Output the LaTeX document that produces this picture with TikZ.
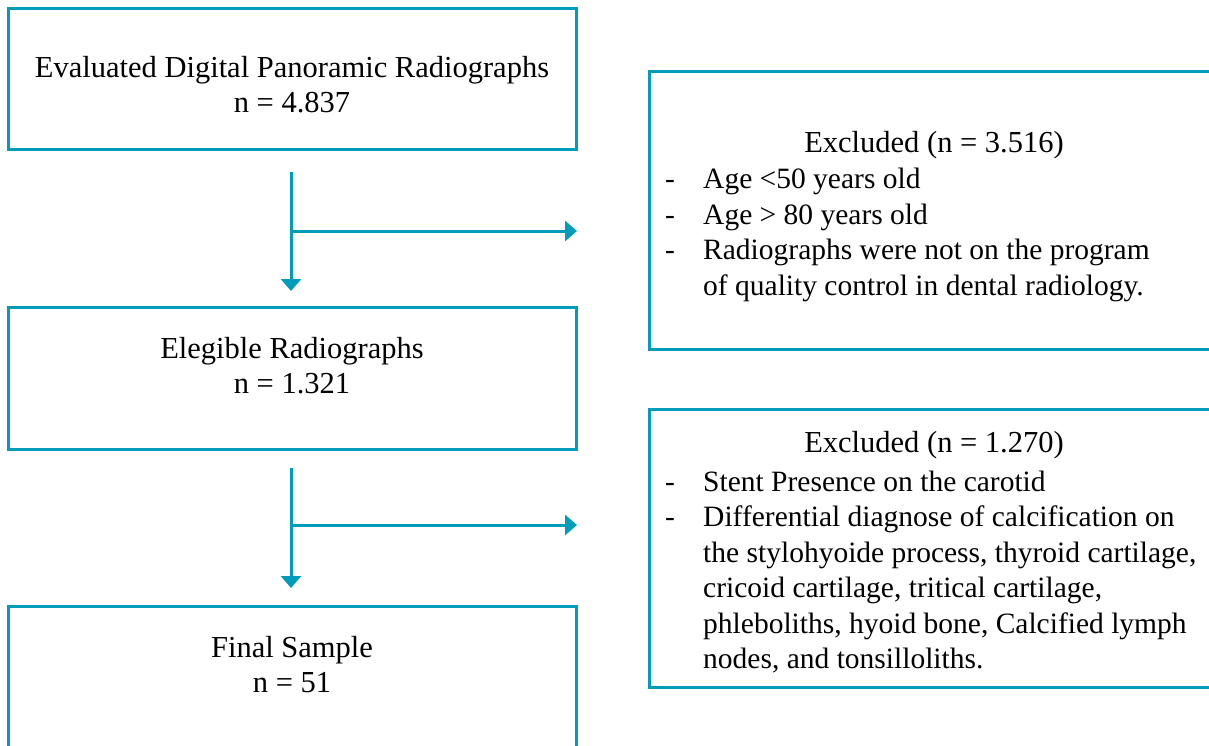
\documentclass[tikz,border=0pt]{standalone}
\usepackage{fontspec}
\setmainfont{Liberation Serif}
\usetikzlibrary{arrows.meta}
\definecolor{teal1}{RGB}{0,156,185}
\begin{document}
\begin{tikzpicture}[x=1pt,y=-1pt,
  box/.style={draw=teal1, line width=3pt, inner sep=0pt},
  txt/.style={font=\fontsize{30.5}{35}\selectfont, align=center, inner sep=0pt},
  listtxt/.style={font=\fontsize{29.5}{35.5}\selectfont, align=left, inner sep=0pt, anchor=west},
  conn/.style={draw=teal1, line width=3pt, -{Triangle[width=20pt,length=12pt]}}]
\useasboundingbox (0,0) rectangle (1209,746);
% left column boxes
\node[box, minimum width=568pt, minimum height=141pt] (b1) at (292,79.5) {};
\node[box, minimum width=568pt, minimum height=142pt] (b2) at (292,378) {};
\node[box, minimum width=568pt, minimum height=142pt] (b3) at (292,677) {};
\node[txt] (t1) at (292,85) {Evaluated Digital Panoramic Radiographs\\ n = 4.837};
\node[txt] (t2) at (292,366) {Elegible Radiographs\\ n = 1.321};
\node[txt] (t3) at (292,665) {Final Sample\\ n = 51};
% right boxes
\node[box, minimum width=566pt, minimum height=277pt] (e1) at (932,210.5) {};
\node[box, minimum width=566pt, minimum height=278pt] (e2) at (932,548) {};
\node[txt] (e1h) at (934,145) {Excluded (n = 3.516)};
\node[listtxt] (e1l) at (665,235) {\begin{tabular}{@{}p{38pt}@{}l@{}}
- & Age <50 years old\\
- & Age > 80 years old\\
- & Radiographs were not on the program\\
  & of quality control in dental radiology.
\end{tabular}};
\node[txt] (e2h) at (934,445) {Excluded (n = 1.270)};
\node[listtxt] (e2l) at (665,573) {\begin{tabular}{@{}p{38pt}@{}l@{}}
- & Stent Presence on the carotid\\
- & Differential diagnose of calcification on\\
  & the stylohyoide process, thyroid cartilage,\\
  & cricoid cartilage, tritical cartilage,\\
  & phleboliths, hyoid bone, Calcified lymph\\
  & nodes, and tonsilloliths.
\end{tabular}};
% connectors
\coordinate (v1s) at (291,172);
\coordinate (v1e) at (291,291);
\coordinate (h1s) at (291,231);
\coordinate (h1e) at (577,231);
\coordinate (v2s) at (291,468);
\coordinate (v2e) at (291,588);
\coordinate (h2s) at (291,525);
\coordinate (h2e) at (577,525);
\draw[conn] (v1s) -- (v1e);
\draw[conn] (h1s) -- (h1e);
\draw[conn] (v2s) -- (v2e);
\draw[conn] (h2s) -- (h2e);
\end{tikzpicture}
\end{document}
